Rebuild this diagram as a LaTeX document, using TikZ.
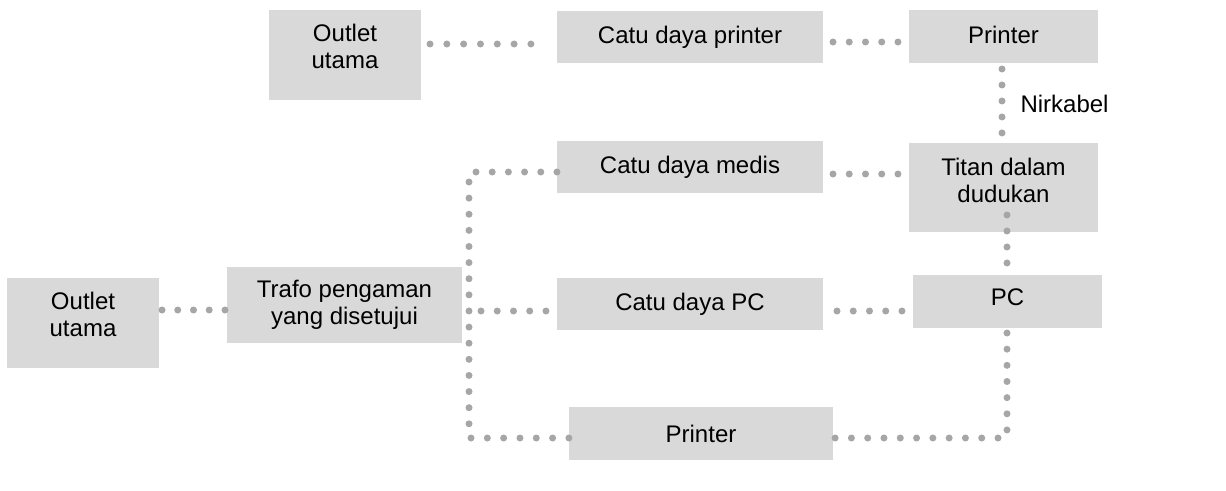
\documentclass[tikz,border=0pt]{standalone}
\usepackage{fontspec}
\setmainfont{Liberation Sans}
\usetikzlibrary{calc}
\definecolor{boxgray}{HTML}{D9D9D9}
\definecolor{dotgray}{HTML}{A6A6A6}
\newcommand\dfont{\fontsize{24}{27}\selectfont}
\tikzset{
  box/.style={fill=boxgray, draw=none, inner sep=0pt, outer sep=0pt},
  txt/.style={font=\dfont, align=center, inner sep=0pt, text=black},
  dotline/.style={draw=dotgray, line width=7pt, line cap=round, dash pattern=on 0pt off #1pt}
}
\begin{document}
\begin{tikzpicture}[x=1pt,y=-1pt]
\useasboundingbox (0,0) rectangle (1226,490);
% boxes
\node[box, minimum width=152, minimum height=90] (outlet1) at (345,55) {};
\node[box, minimum width=266, minimum height=52] (cdprinter) at (690,37) {};
\node[box, minimum width=189, minimum height=53] (printer1) at (1003.5,36.5) {};
\node[box, minimum width=266, minimum height=52] (cdmedis) at (690,167) {};
\node[box, minimum width=189, minimum height=89] (titan) at (1003.5,187.5) {};
\node[box, minimum width=152, minimum height=90] (outlet2) at (83,323) {};
\node[box, minimum width=235, minimum height=76] (trafo) at (344.5,305) {};
\node[box, minimum width=266, minimum height=52] (cdpc) at (690,304) {};
\node[box, minimum width=189, minimum height=53] (pc) at (1007.5,301.5) {};
\node[box, minimum width=264, minimum height=53] (printer2) at (701,433.5) {};
% texts
\node[txt, yshift=8.5pt] (outlet1-t) at (outlet1.center) {Outlet\\utama};
\node[txt] (cdprinter-t) at (cdprinter.center) {Catu daya printer};
\node[txt, yshift=1.5pt] (printer1-t) at (printer1.center) {Printer};
\node[txt] (cdmedis-t) at (cdmedis.center) {Catu daya medis};
\node[txt, yshift=7.5pt] (titan-t) at (titan.center) {Titan dalam\\dudukan};
\node[txt, yshift=8.5pt] (outlet2-t) at (outlet2.center) {Outlet\\utama};
\node[txt] (trafo-t) at (trafo.center) {Trafo pengaman\\yang disetujui};
\node[txt] (cdpc-t) at (cdpc.center) {Catu daya PC};
\node[txt, yshift=4pt] (pc-t) at (pc.center) {PC};
\node[txt] (printer2-t) at (printer2.center) {Printer};
% helper coordinates
\coordinate (bus) at ($(trafo.east)+(7,0)$);
\coordinate (pcCorner) at (pc.south |- printer2.east);
% connectors
\draw[dotline=16.82] ($(outlet1.east)+(9,-11)$) -- ($(cdprinter.west)+(-26,7)$);
\draw[dotline=16.24] ($(cdprinter.east)+(10,5)$) -- ($(printer1.west)+(-11,5.5)$);
\draw[dotline=15.99] ($(printer1.south)+(-1.5,6)$) -- ($(titan.north)+(-1.5,-10)$)
  node[pos=0.5, right=15pt, txt, anchor=west, yshift=-3pt] (nirkabel) {Nirkabel};
\draw[dotline=16.24] ($(cdmedis.east)+(10,7)$) -- ($(titan.west)+(-11,-13.5)$);
\draw[dotline=15.99] ($(titan.south)+(3.5,-17)$) -- ($(pc.north)+(-0.5,-12)$);
\draw[dotline=16.24] ($(cdpc.east)+(14,7)$) -- ($(pc.west)+(-11,9.5)$);
\draw[dotline=16.16] ($(pc.south)+(-0.5,5)$) -- ($(pcCorner)+(-0.5,-3.5)$);
\draw[dotline=16.29] ($(pcCorner)+(-9.5,4.5)$) -- ($(printer2.east)+(2,4.5)$);
\draw[dotline=15.74] ($(outlet2.east)+(3,-13)$) -- ($(trafo.west)+(-2,5)$);
\draw[dotline=16.19] ($(bus |- cdmedis.west)+(7,5)$) -- ($(cdmedis.west)+(0,5)$);
\draw[dotline=16.12] ($(bus |- cdmedis.west)+(0,15)$) -- ($(bus |- printer2.west)+(0,-9.5)$);
\draw[dotline=16.24] ($(trafo.east)+(19,6)$) -- ($(cdpc.west)+(-11,7)$);
\draw[dotline=16.32] ($(bus |- printer2.west)+(2,4.5)$) -- ($(printer2.west)+(0,4.5)$);
\end{tikzpicture}
\end{document}
